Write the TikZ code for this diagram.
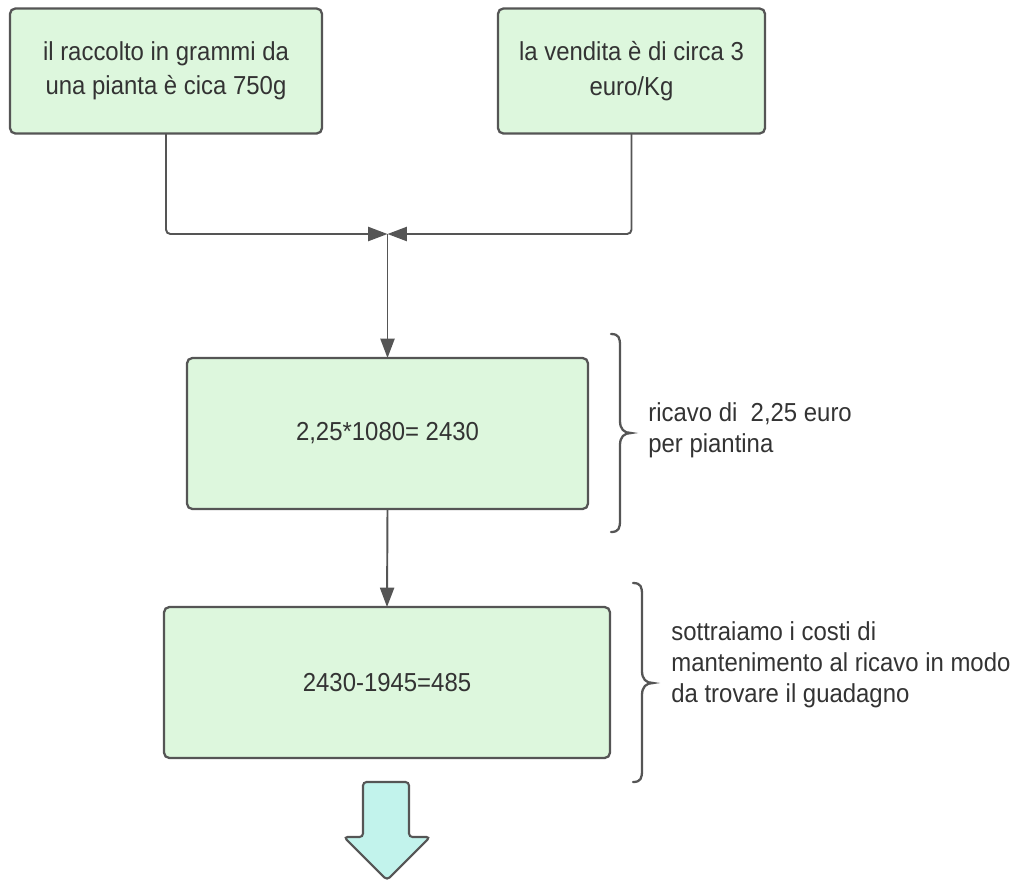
\documentclass[tikz,border=0pt]{standalone}
\usepackage{fontspec}
\setmainfont{Liberation Sans}[FakeStretch=0.92]
\usetikzlibrary{arrows.meta}
\definecolor{boxfill}{HTML}{DDF7DD}
\definecolor{boxline}{HTML}{555555}
\definecolor{txt}{HTML}{333333}
\definecolor{bigarrow}{HTML}{C2F3EC}
\begin{document}
\begin{tikzpicture}[x=0.02cm,y=-0.02cm,
  box/.style={draw=boxline,fill=boxfill,line width=1.3pt,rounded corners=3pt,
    outer sep=0pt,inner sep=0pt,align=center,text=txt,
    font=\fontsize{14.8}{19.5}\selectfont},
  conn/.style={draw=boxline,line width=1.1pt,rounded corners=2.5pt,
    -{Triangle[length=11pt,width=8pt]}},
  note/.style={anchor=west,align=left,text=txt,inner sep=0pt,
    font=\fontsize{14.8}{17.5}\selectfont},
  brace/.style={draw=boxline,line width=1.3pt,line cap=round}]
\useasboundingbox (0,0) rectangle (1026,880);

% input boxes
\node[box,minimum width=6.24cm,minimum height=2.5cm] (b1) at (166,71)
  {il raccolto in grammi da\\una pianta è cica 750g};
\node[box,minimum width=5.34cm,minimum height=2.5cm] (b2) at (631.5,71)
  {la vendita è di circa 3\\euro/Kg};

% calculation boxes
\node[box,minimum width=8.02cm,minimum height=3.02cm] (b3) at (387.5,433.5)
  {2,25*1080= 2430};
\node[box,minimum width=8.92cm,minimum height=3.02cm] (b4) at (387,682.5)
  {2430-1945=485};

% connectors
\coordinate (j) at (387.5,234);
\draw[conn] (b1.south) |- (j);
\draw[conn] (b2.south) |- (j);
\draw[conn] (j) -- (b3.north);
\draw[conn] (b3.south) -- (b4.north);

% curly braces with notes
\draw[brace] (611,334) .. controls (619,334) and (620,338) .. (620,346)
  -- (620,421) .. controls (620,429) and (624,433) .. (631,433)
  .. controls (624,433) and (620,437) .. (620,445)
  -- (620,520) .. controls (620,528) and (619,532) .. (611,532);
\node[note] (n1) at (648,430) {ricavo di \ 2,25 euro\\per piantina};

\draw[brace] (633,583) .. controls (641,583) and (642,587) .. (642,595)
  -- (642,671) .. controls (642,679) and (646,683) .. (653,683)
  .. controls (646,683) and (642,687) .. (642,695)
  -- (642,770) .. controls (642,778) and (641,782) .. (633,782);
\node[note] (n2) at (671,665) {sottraiamo i costi di\\mantenimento al ricavo in modo\\da trovare il guadagno};

% outgoing block arrow
\draw[draw=boxline,fill=bigarrow,line width=1.2pt,rounded corners=2pt]
  (363,782) -- (409,782) -- (409,837) -- (430,837) -- (387,880)
  -- (344,837) -- (363,837) -- cycle;
\end{tikzpicture}
\end{document}
